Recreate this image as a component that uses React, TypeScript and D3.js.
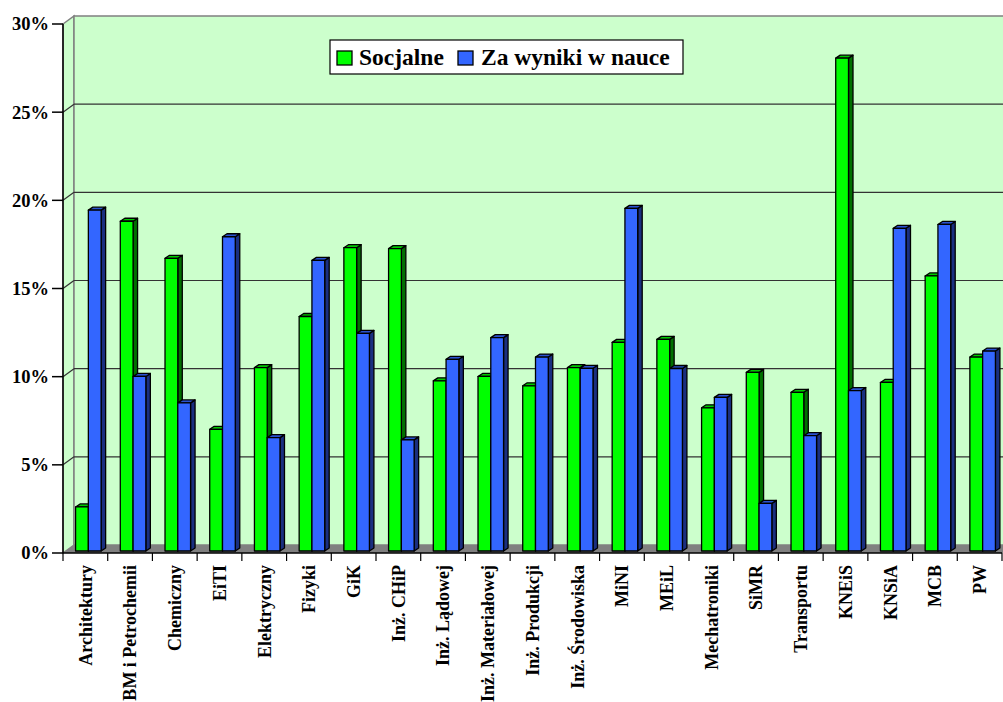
import React, { useEffect, useRef } from 'react';
import * as d3 from 'd3';

// nazwy wydziałów
const categories = [
  'Architektury', 'BM i Petrochemii', 'Chemiczny', 'EiTI', 'Elektryczny', 'Fizyki', 'GiK',
  'Inż. CHiP', 'Inż. Lądowej', 'Inż. Materiałowej', 'Inż. Produkcji', 'Inż. Środowiska',
  'MiNI', 'MEiL', 'Mechatroniki', 'SiMR', 'Transportu', 'KNEiS', 'KNSiA', 'MCB', 'PW',
];
// stypendia socjalne (%)
const socjalne = [
  2.5, 18.7, 16.6, 6.9, 10.4, 13.3, 17.2, 17.15, 9.65, 9.9, 9.37, 10.4,
  11.83, 12.0, 8.12, 10.13, 9.0, 27.95, 9.56, 15.6, 11.0,
];
// stypendia za wyniki w nauce (%)
const zaWyniki = [
  19.33, 9.9, 8.4, 17.82, 6.43, 16.48, 12.34, 6.3, 10.87, 12.1, 11.0, 10.36,
  19.43, 10.35, 8.71, 2.7, 6.54, 9.1, 18.3, 18.52, 11.34,
];
const seriesNames = ['Socjalne', 'Za wyniki w nauce'];
const yTicks = [0, 5, 10, 15, 20, 25, 30];

const W = 1003;
const H = 702;
const FONT = '"Liberation Serif", "Times New Roman", serif';

function App() {
  const ref = useRef<SVGSVGElement>(null);

  useEffect(() => {
    const svg = d3.select(ref.current);
    svg.selectAll('*').remove();

    /* ========>> geometria ========<< */
    const left = 63;
    const right = 1002;
    const bottom = 553;
    const top = 24;
    // przesunięcie tylnej ściany
    const wdx = 11;
    const wdy = -8;
    // przesunięcie słupków i ich głębokość
    const bdx = 3;
    const bdy = -2;
    const ddx = 4.5;
    const ddy = -3;

    const y = d3.scaleLinear().domain([0, 30]).range([bottom, top]);
    const x = d3.scaleBand<string>().domain(categories).range([left, right]).padding(0);
    const xs = d3
      .scaleBand<number>()
      .domain([0, 1])
      .range([0, x.bandwidth()])
      .paddingInner(0)
      .paddingOuter(0.75);

    const colors = [
      { front: '#00FF00', side: '#007000', top: '#00C800' },
      { front: '#3366FF', side: '#1A2F80', top: '#2A52D0' },
    ];

    // ściana boczna
    svg
      .append('polygon')
      .attr('points', [[left, top], [left + wdx, top + wdy], [left + wdx, bottom + wdy], [left, bottom]].join(' '))
      .attr('fill', '#CCFFCC')
      .attr('stroke', '#808080')
      .attr('stroke-width', 1.5);
    // ściana tylna
    svg
      .append('rect')
      .attr('x', left + wdx)
      .attr('y', top + wdy)
      .attr('width', right - left + 20)
      .attr('height', bottom - top)
      .attr('fill', '#CCFFCC')
      .attr('stroke', '#808080')
      .attr('stroke-width', 1.5);
    // podłoga
    svg
      .append('polygon')
      .attr('points', [[left, bottom], [left + wdx, bottom + wdy], [right + wdx + 20, bottom + wdy], [right + 20, bottom]].join(' '))
      .attr('fill', '#808080');

    // linie siatki
    yTicks.slice(1, -1).forEach((t) => {
      svg
        .append('line')
        .attr('x1', left + wdx)
        .attr('x2', W)
        .attr('y1', y(t) + wdy)
        .attr('y2', y(t) + wdy)
        .attr('stroke', '#333')
        .attr('stroke-width', 1.2);
      svg
        .append('line')
        .attr('x1', left)
        .attr('x2', left + wdx)
        .attr('y1', y(t))
        .attr('y2', y(t) + wdy)
        .attr('stroke', '#333')
        .attr('stroke-width', 1.2);
    });

    /* ========>> słupki ========<< */
    const data = [socjalne, zaWyniki];
    categories.forEach((c, i) => {
      [0, 1].forEach((s) => {
        const v = data[s][i];
        const bx = (x(c) as number) + (xs(s) as number) + bdx;
        const bw = xs.bandwidth();
        const by = y(v) + bdy;
        const bb = bottom + bdy;
        const g = svg.append('g').attr('stroke', '#000').attr('stroke-width', 1.3).attr('stroke-linejoin', 'round');
        g.append('polygon')
          .attr('points', [[bx + bw, by], [bx + bw + ddx, by + ddy], [bx + bw + ddx, bb + ddy], [bx + bw, bb]].join(' '))
          .attr('fill', colors[s].side);
        g.append('polygon')
          .attr('points', [[bx, by], [bx + ddx, by + ddy], [bx + bw + ddx, by + ddy], [bx + bw, by]].join(' '))
          .attr('fill', colors[s].top);
        g.append('rect')
          .attr('x', bx)
          .attr('y', by)
          .attr('width', bw)
          .attr('height', bb - by)
          .attr('fill', colors[s].front);
      });
    });

    /* ========>> osie ========<< */
    svg
      .append('line')
      .attr('x1', left)
      .attr('x2', left)
      .attr('y1', top)
      .attr('y2', bottom)
      .attr('stroke', '#000')
      .attr('stroke-width', 1.5);
    svg
      .append('line')
      .attr('x1', left)
      .attr('x2', right)
      .attr('y1', bottom)
      .attr('y2', bottom)
      .attr('stroke', '#000')
      .attr('stroke-width', 1.5);

    yTicks.forEach((t) => {
      svg
        .append('line')
        .attr('x1', left - 11)
        .attr('x2', left)
        .attr('y1', y(t))
        .attr('y2', y(t))
        .attr('stroke', '#000')
        .attr('stroke-width', 1.5);
      svg
        .append('text')
        .attr('x', left - 14)
        .attr('y', y(t))
        .attr('dy', '0.35em')
        .attr('text-anchor', 'end')
        .style('font-family', FONT)
        .style('font-weight', 'bold')
        .style('font-size', '18.5px')
        .text(`${t}%`);
    });

    [...categories.map((c) => x(c) as number), right].forEach((tx) => {
      svg
        .append('line')
        .attr('x1', tx)
        .attr('x2', tx)
        .attr('y1', bottom)
        .attr('y2', bottom + 8)
        .attr('stroke', '#000')
        .attr('stroke-width', 1.2);
    });

    categories.forEach((c) => {
      const cx = (x(c) as number) + x.bandwidth() / 2;
      svg
        .append('text')
        .attr('transform', `translate(${cx},565) rotate(-90)`)
        .attr('dy', '0.35em')
        .attr('text-anchor', 'end')
        .style('font-family', FONT)
        .style('font-weight', 'bold')
        .style('font-size', '18px')
        .text(c);
    });

    /* ========>> legenda ========<< */
    const lg = svg.append('g').attr('transform', 'translate(330,40)');
    lg.append('rect')
      .attr('width', 353)
      .attr('height', 34)
      .attr('fill', '#fff')
      .attr('stroke', '#000')
      .attr('stroke-width', 1.2);
    const items = [
      { sx: 7, tx: 29 },
      { sx: 128, tx: 151 },
    ];
    items.forEach((it, i) => {
      lg.append('rect')
        .attr('x', it.sx)
        .attr('y', 11)
        .attr('width', 15)
        .attr('height', 14)
        .attr('fill', colors[i].front)
        .attr('stroke', '#000')
        .attr('stroke-width', 1.3);
      lg.append('text')
        .attr('x', it.tx)
        .attr('y', 25)
        .style('font-family', FONT)
        .style('font-weight', 'bold')
        .style('font-size', '23.5px')
        .text(seriesNames[i]);
    });
  }, []);

  return (
    <svg
      ref={ref}
      width={W}
      height={H}
      style={{ position: 'absolute', left: 0, top: 0, background: '#fff' }}
    />
  );
}

export default App;
